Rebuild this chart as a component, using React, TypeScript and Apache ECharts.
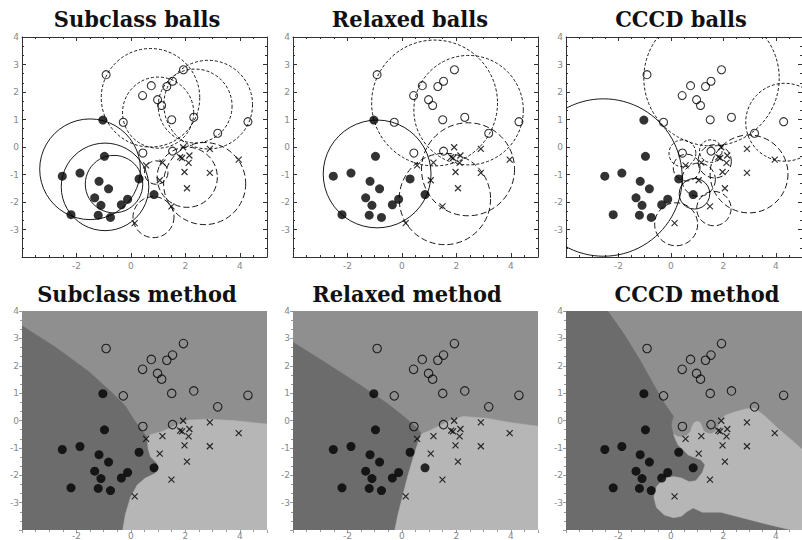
import React, { useEffect, useRef } from "react";
import * as echarts from "echarts";

// ---------- data ----------
const titles = ["Subclass balls", "Relaxed balls", "CCCD balls", "Subclass method", "Relaxed method", "CCCD method"];

const filledPts = [
  [-1.03, 0.98], [-0.97, -0.34], [-2.52, -1.06], [-1.87, -0.95], [-1.17, -1.25],
  [-0.82, -1.52], [-1.33, -1.85], [-1.1, -2.12], [-0.35, -2.1], [-0.12, -1.9],
  [0.3, -1.16], [0.85, -1.73], [-2.2, -2.46], [-1.2, -2.48], [-0.75, -2.56],
];
const openPts = [
  [-0.91, 2.63], [0.75, 2.23], [0.43, 1.87], [1.32, 2.2], [1.53, 2.39],
  [1.93, 2.81], [0.98, 1.72], [1.13, 1.51], [-0.28, 0.9], [1.5, 0.99],
  [2.31, 1.08], [3.19, 0.5], [4.3, 0.92], [0.44, -0.22], [1.53, -0.15],
];
const crossPts = [
  [1.92, -0.01], [2.9, -0.07], [3.96, -0.46], [1.81, -0.37], [1.88, -0.4],
  [2.15, -0.31], [2.12, -0.58], [1.16, -0.57], [0.56, -0.67], [1.97, -0.91],
  [2.9, -0.94], [1.06, -1.21], [2.06, -1.5], [1.49, -2.16], [0.14, -2.77],
];

// balls: [centerX, centerY, radius]
const subSolidBalls = [[-1.5, -0.81, 1.84], [-0.95, -1.45, 1.6], [-0.62, -1.35, 1.05]];
const subDashBalls = [[0.72, 1.79, 1.8], [1.0, 1.25, 1.3], [2.84, 1.54, 1.62], [2.36, 1.49, 1.35]];
const subLongBalls = [[2.71, -1.33, 1.5], [2.07, -1.1, 1.1], [0.93, -0.93, 0.43], [0.83, -2.55, 0.75]];
const relSolidBalls = [[-0.91, -0.98, 1.97]];
const relDashBalls = [[1.2, 1.6, 2.3], [2.45, 1.34, 2.0]];
const relLongBalls = [[2.43, -0.81, 1.7], [1.58, -1.89, 1.67]];
const cccdSolidBalls = [[-2.57, -1.11, 2.93], [0.9, -1.7, 0.57]];
const cccdDashBalls = [[1.55, 2.5, 2.52], [4.34, 0.9, 1.45], [0.44, -0.23, 0.5], [1.52, -0.15, 0.42]];
const cccdLongBalls = [[2.98, -0.98, 1.45], [0.2, -2.81, 0.8], [1.64, -2.24, 0.64], [1.06, -1.19, 0.62], [0.6, -0.75, 0.5], [1.67, -0.52, 0.62]];

// decision regions (boundary vertices in data units)
const subDarkRegion = [
  [-4, 3.46], [-2.77, 2.68], [-1.55, 1.79], [-0.69, 1.01], [-0.2, 0.53], [0.1, 0.05], [0.41, -0.37], [0.6, -0.6],
  [2, -2], [2, -4], [-4, -4],
];
const subLightRegion = [
  [0.6, -0.6], [0.72, -0.52], [1.15, -0.4], [1.76, -0.13], [2.13, 0.02], [2.86, 0.05], [3.84, -0.01], [5, -0.13],
  [5, -4], [-0.3, -4], [-0.2, -3.42], [-0.02, -2.82], [0.23, -2.36], [0.53, -2.1], [0.88, -1.94], [1.02, -1.74],
  [0.96, -1.56], [0.72, -1.32], [0.63, -1.02],
];
const relDarkRegion = [
  [-4, 2.86], [-2.77, 2.09], [-1.55, 1.31], [-0.57, 0.65], [0.04, 0.17], [0.53, -0.25], [0.72, -0.49],
  [2, -2], [2, -4], [-4, -4],
];
const relLightRegion = [
  [0.72, -0.49], [1.02, -0.37], [1.76, -0.01], [2.25, 0.15], [3.11, 0.08], [3.97, -0.07], [5, -0.21],
  [5, -4], [-0.26, -4], [-0.14, -3.42], [0.04, -2.7], [0.23, -1.98], [0.41, -1.38], [0.6, -0.78],
];
const cccdDarkRegion = [
  [-4, 4], [-2.41, 4], [-1.79, 3.16], [-1.18, 2.21], [-0.69, 1.37], [-0.26, 0.65], [0.1, 0.15],
  [0.03, -0.05], [0.02, -0.25], [0.08, -0.45], [0.1, -0.5], [0.3, -0.8], [2, -2], [5, -2], [5, -4], [-4, -4],
];
const cccdLightRegion = [
  [0.1, -0.5], [0.25, -0.58], [0.42, -0.61], [0.6, -0.55], [0.75, -0.4], [0.8, -0.23], [0.88, -0.08], [1.0, -0.03],
  [1.12, -0.08], [1.18, -0.2], [1.25, -0.38], [1.4, -0.47], [1.55, -0.48], [1.7, -0.4], [1.82, -0.22], [1.88, 0.02],
  [2.1, 0.2], [2.4, 0.3], [2.85, 0.42], [3.2, 0.45], [3.6, 0.15], [4.1, -0.3], [4.65, -0.75], [5, -1.05],
  [5, -4.1], [3.3, -3.7], [1.9, -3.35], [1.2, -3.35], [0.85, -3.2], [0.62, -3.32], [0.4, -3.5], [0.1, -3.55],
  [-0.25, -3.45], [-0.55, -3.18], [-0.65, -2.8], [-0.55, -2.42], [-0.28, -2.13], [0.1, -2.05], [0.4, -2.1],
  [0.7, -2.24], [0.95, -2.2], [1.2, -1.9], [1.3, -1.62], [1.15, -1.44], [0.9, -1.35], [0.66, -1.26], [0.45, -1.05],
  [0.28, -0.9], [0.18, -0.7],
];

// ---------- styling / layout ----------
const DARK = "#6c6c6c";
const MID = "#8f8f8f";
const LIGHT = "#b6b6b6";
const PANEL_LEFTS = [22, 293, 566];
const PANEL_W = 245;
const TITLE_POS = [[137, 19], [410, 19], [681, 19], [137, 294], [407, 294], [697, 294]];

const ballSeries = (ax: number, balls: number[][], dash: number[] | null) => ({
  type: "custom",
  xAxisIndex: ax,
  yAxisIndex: ax,
  clip: true,
  silent: true,
  z: 2,
  data: balls,
  renderItem: (params: any, api: any) => {
    const c = api.coord([api.value(0), api.value(1)]);
    const s = api.size([api.value(2), api.value(2)]);
    return {
      type: "circle",
      shape: { cx: c[0], cy: c[1], r: (s[0] + s[1]) / 2 },
      style: { fill: "none", stroke: "#000", lineWidth: 0.9, lineDash: dash || undefined },
    };
  },
});

const regionSeries = (ax: number, pts: number[][], color: string, z: number) => ({
  type: "custom",
  xAxisIndex: ax,
  yAxisIndex: ax,
  clip: true,
  silent: true,
  z,
  data: [[0, 0]],
  renderItem: (params: any, api: any) => ({
    type: "polygon",
    shape: { points: pts.map((p) => api.coord(p)) },
    style: { fill: color, stroke: color, lineWidth: 0.5 },
  }),
});

const pointSeries = (ax: number, big: boolean) => [
  {
    type: "scatter", xAxisIndex: ax, yAxisIndex: ax, z: 5, silent: true,
    symbol: "circle", symbolSize: 9, data: filledPts,
    itemStyle: { color: "#000" },
  },
  {
    type: "scatter", xAxisIndex: ax, yAxisIndex: ax, z: 5, silent: true,
    symbol: "circle", symbolSize: big ? 8.5 : 8, data: openPts,
    itemStyle: { color: "rgba(0,0,0,0)", borderColor: "#000", borderWidth: 1.1 },
  },
  {
    type: "scatter", xAxisIndex: ax, yAxisIndex: ax, z: 5, silent: true,
    symbol: "path://M0,0L10,10M10,0L0,10", symbolSize: 6, data: crossPts,
    itemStyle: { color: "rgba(0,0,0,0)", borderColor: "#000", borderWidth: 1.2 },
  },
];

function buildOption() {
  const grid: any[] = [];
  const xAxis: any[] = [];
  const yAxis: any[] = [];
  const series: any[] = [];
  const mainIdx: number[] = [];
  const labelStyle = { color: "#888", fontSize: 9, fontFamily: "DejaVu Sans" };

  for (let i = 0; i < 6; i++) {
    const row = i < 3 ? 0 : 1;
    const col = i % 3;
    const frameColor = row === 0 ? "#333" : "#999";
    grid.push({
      left: PANEL_LEFTS[col],
      top: row === 0 ? 37 : 311,
      width: PANEL_W,
      height: row === 0 ? 220 : 221,
      show: true,
      backgroundColor: row === 0 ? "#fff" : MID,
      borderWidth: 0,
    });
    const idx = xAxis.length;
    mainIdx.push(idx);
    const tick = { show: true, inside: row === 0, length: row === 0 ? 4 : 3, lineStyle: { color: frameColor, width: 1 } };
    xAxis.push({
      type: "value", gridIndex: i, min: -4, max: 5, interval: 2, position: "bottom",
      axisLine: { show: row === 0, onZero: false, lineStyle: { color: frameColor, width: 1 } },
      axisTick: tick,
      minorTick: { show: true, splitNumber: 4, length: 2, lineStyle: { color: frameColor } },
      splitLine: { show: false },
      axisLabel: { ...labelStyle, showMinLabel: false, showMaxLabel: false, margin: row === 0 ? 4 : 1 },
    });
    yAxis.push({
      type: "value", gridIndex: i, min: -4, max: 4, interval: 1, position: "left",
      axisLine: { show: row === 0, onZero: false, lineStyle: { color: frameColor, width: 1 } },
      axisTick: tick,
      minorTick: { show: true, splitNumber: 3, length: 2, lineStyle: { color: frameColor } },
      splitLine: { show: false },
      axisLabel: { ...labelStyle, showMinLabel: false, showMaxLabel: true, margin: 3 },
    });
    if (row === 0) {
      xAxis.push({
        type: "value", gridIndex: i, min: -4, max: 5, interval: 2, position: "top",
        axisLine: { show: true, onZero: false, lineStyle: { color: frameColor, width: 1 } },
        axisTick: tick,
        minorTick: { show: true, splitNumber: 4, length: 2, lineStyle: { color: frameColor } },
        splitLine: { show: false },
        axisLabel: { show: false },
      });
      yAxis.push({
        type: "value", gridIndex: i, min: -4, max: 4, interval: 1, position: "right",
        axisLine: { show: true, onZero: false, lineStyle: { color: frameColor, width: 1 } },
        axisTick: tick,
        minorTick: { show: true, splitNumber: 3, length: 2, lineStyle: { color: frameColor } },
        splitLine: { show: false },
        axisLabel: { show: false },
      });
    }
  }

  const solidDash = null;
  const shortDash = [3, 2];
  const longDash = [6, 3];
  const ballSets = [
    [subSolidBalls, subDashBalls, subLongBalls],
    [relSolidBalls, relDashBalls, relLongBalls],
    [cccdSolidBalls, cccdDashBalls, cccdLongBalls],
  ];
  for (let c = 0; c < 3; c++) {
    const ax = mainIdx[c];
    series.push(ballSeries(ax, ballSets[c][0], solidDash));
    series.push(ballSeries(ax, ballSets[c][1], shortDash));
    series.push(ballSeries(ax, ballSets[c][2], longDash));
    series.push(...pointSeries(ax, false));
  }
  const regionSets = [
    [subDarkRegion, subLightRegion],
    [relDarkRegion, relLightRegion],
    [cccdDarkRegion, cccdLightRegion],
  ];
  for (let c = 0; c < 3; c++) {
    const ax = mainIdx[3 + c];
    series.push(regionSeries(ax, regionSets[c][0], DARK, 1));
    series.push(regionSeries(ax, regionSets[c][1], LIGHT, 2));
    series.push(...pointSeries(ax, true));
  }

  const graphic = titles.map((t, i) => ({
    type: "text",
    x: TITLE_POS[i][0],
    y: TITLE_POS[i][1],
    scaleY: 1.1,
    z: 10,
    style: {
      text: t,
      fontSize: 21,
      fontWeight: "bold",
      fontFamily: "DejaVu Serif",
      fill: "#111",
      textAlign: "center",
      textVerticalAlign: "middle",
      align: "center",
      verticalAlign: "middle",
    },
  }));

  return { animation: false, backgroundColor: "#fff", grid, xAxis, yAxis, series, graphic };
}

export default function App() {
  const ref = useRef<HTMLDivElement>(null);
  useEffect(() => {
    if (!ref.current) return;
    const chart = echarts.init(ref.current, undefined, { renderer: "svg" });
    chart.setOption(buildOption() as any);
    return () => chart.dispose();
  }, []);
  return (
    <div
      ref={ref}
      style={{ position: "fixed", left: 0, top: 0, width: 802, height: 540, background: "#fff" }}
    />
  );
}
